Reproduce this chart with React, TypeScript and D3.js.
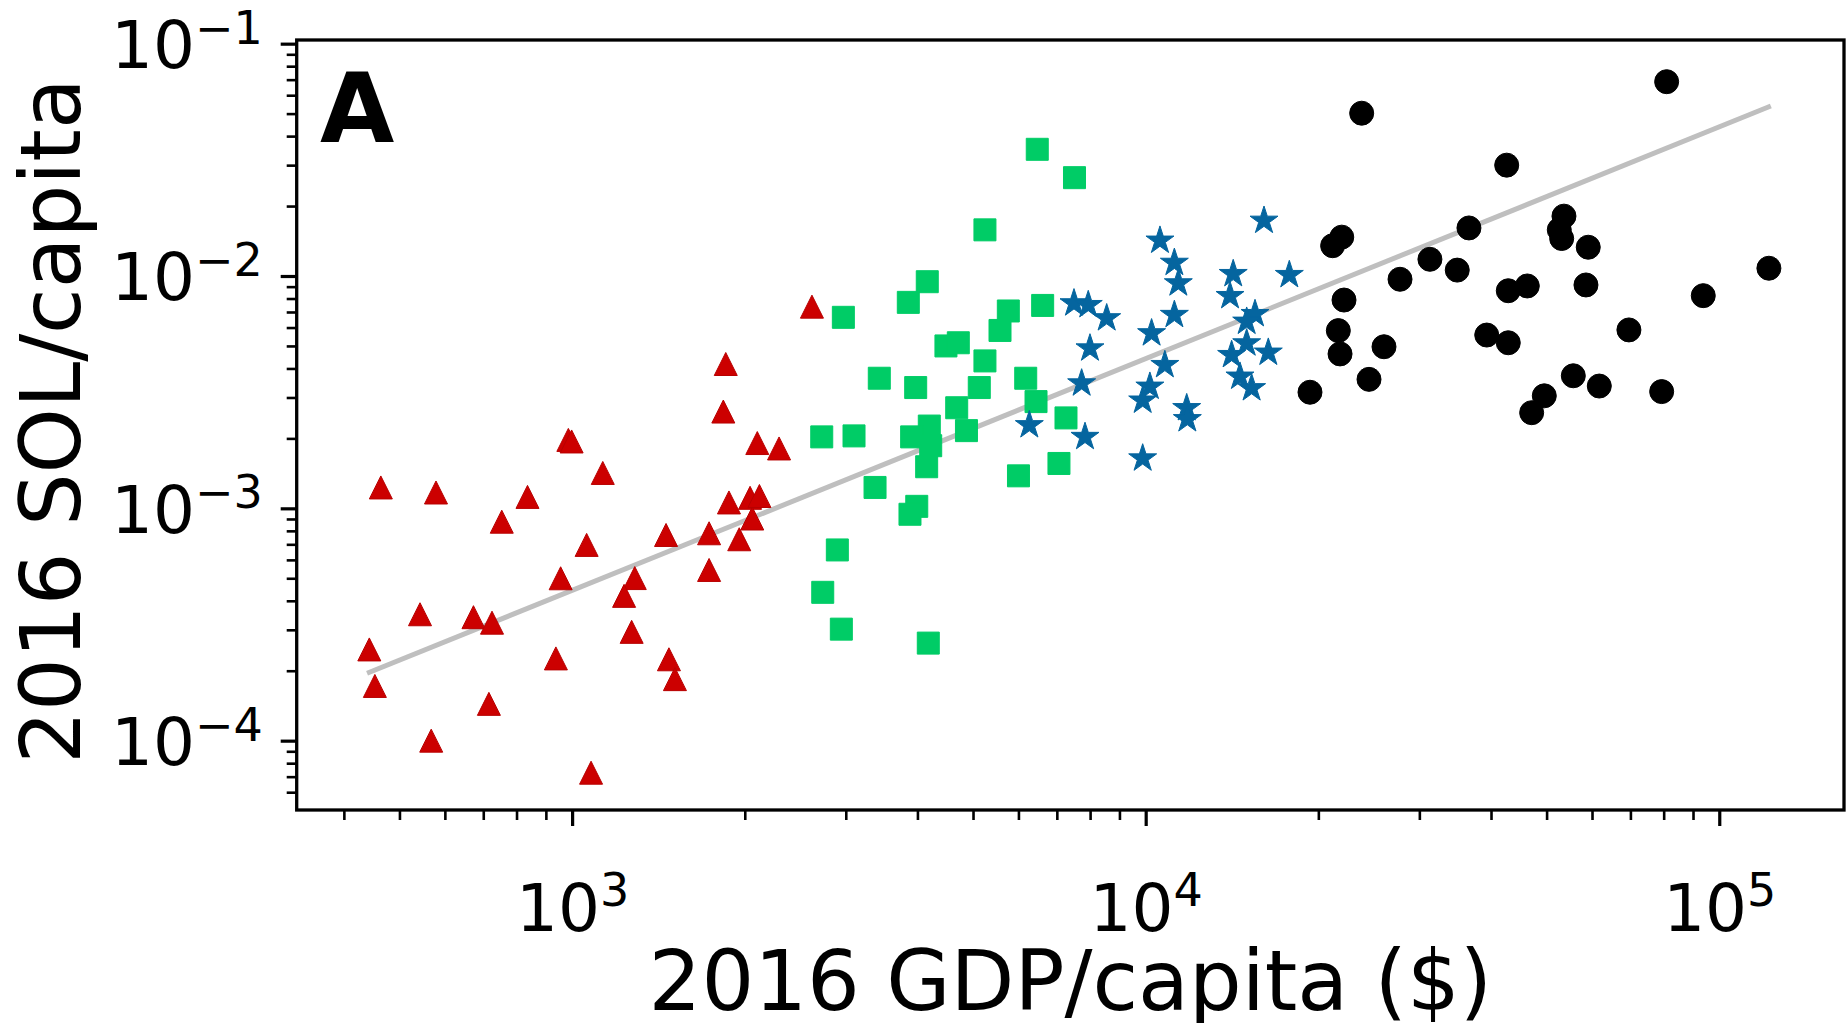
import React, { useEffect, useRef } from 'react';
import * as d3 from 'd3';

// ---- Data ----
// Low income (red triangles)
const lowIncomeGDP = [464, 579, 836, 754, 985, 998, 1131, 1835, 2103, 2295, 1877, 2043, 2121, 2061, 1733, 1956, 1733, 1458, 1060, 955, 1286, 1232, 1270, 1475, 1511, 937, 543, 673, 725, 443, 453, 716, 568, 1079, 2619, 1853];
const lowIncomeSOL = [1.23e-3, 1.17e-3, 1.12e-3, 8.76e-4, 1.97e-3, 1.94e-3, 1.42e-3, 2.61e-3, 1.91e-3, 1.81e-3, 1.06e-3, 1.11e-3, 1.13e-3, 9.04e-4, 7.81e-4, 7.36e-4, 5.43e-4, 7.68e-4, 6.96e-4, 5.0e-4, 5.01e-4, 4.2e-4, 2.94e-4, 2.24e-4, 1.84e-4, 2.26e-4, 3.5e-4, 3.4e-4, 3.22e-4, 2.47e-4, 1.72e-4, 1.44e-4, 1.0e-4, 7.28e-5, 7.38e-3, 4.18e-3];

// Lower-middle income (green squares)
const lowerMiddleGDP = [6471, 7514, 5245, 4161, 3856, 2971, 5761, 6613, 5572, 4485, 4713, 5245, 3432, 3972, 5127, 6178, 6439, 4683, 7262, 4870, 2724, 3101, 4195, 3908, 4219, 4151, 7060, 6001, 3374, 3989, 3882, 2900, 2735, 2947, 4178];
const lowerMiddleSOL = [0.0351, 0.0265, 0.0158, 9.45e-3, 7.7e-3, 6.64e-3, 7.07e-3, 7.47e-3, 5.83e-3, 5.0e-3, 5.16e-3, 4.31e-3, 3.63e-3, 3.31e-3, 3.31e-3, 3.63e-3, 2.88e-3, 2.71e-3, 2.45e-3, 2.16e-3, 2.03e-3, 2.05e-3, 2.26e-3, 2.03e-3, 1.86e-3, 1.51e-3, 1.56e-3, 1.38e-3, 1.23e-3, 1.02e-3, 9.43e-4, 6.62e-4, 4.35e-4, 3.02e-4, 2.63e-4];

// Upper-middle income (blue stars)
const upperMiddleGDP = [16080, 10590, 11220, 11400, 14210, 17800, 14030, 7499, 7941, 8551, 11220, 10240, 15510, 15000, 7996, 15000, 14120, 16360, 10800, 7733, 14600, 15300, 10170, 9880, 11790, 11820, 6268, 7838, 9880];
const upperMiddleSOL = [0.0173, 0.0142, 0.0114, 9.3e-3, 0.0102, 0.0101, 8.2e-3, 7.63e-3, 7.5e-3, 6.58e-3, 6.8e-3, 5.67e-3, 6.86e-3, 6.36e-3, 4.88e-3, 5.13e-3, 4.57e-3, 4.68e-3, 4.14e-3, 3.45e-3, 3.69e-3, 3.29e-3, 3.34e-3, 2.91e-3, 2.7e-3, 2.42e-3, 2.28e-3, 2.03e-3, 1.64e-3];

// High income (black circles)
const highIncomeGDP = [80960, 23800, 42600, 53610, 52610, 53120, 21970, 21180, 36610, 59100, 122050, 31300, 34930, 27760, 22170, 42870, 46270, 58560, 93780, 21670, 21820, 26030, 39320, 42870, 69580, 24510, 19340, 55660, 61780, 79360, 49540, 47090];
const highIncomeSOL = [0.0686, 0.0502, 0.03, 0.0181, 0.0158, 0.0145, 0.0147, 0.0135, 0.0161, 0.0133, 0.0108, 0.0118, 0.0106, 9.68e-3, 7.88e-3, 8.64e-3, 9.06e-3, 9.15e-3, 8.23e-3, 5.82e-3, 4.62e-3, 4.96e-3, 5.57e-3, 5.16e-3, 5.86e-3, 3.59e-3, 3.16e-3, 3.72e-3, 3.36e-3, 3.18e-3, 3.05e-3, 2.58e-3];

// Regression line endpoints
const fitGDP = [439, 123000];
const fitSOL = [1.95e-4, 0.0539];

// Axes
const xDomain = [331, 165000];
const yDomain = [5.03e-5, 0.1037];
const xMajorTicks = [1e3, 1e4, 1e5];
const yMajorTicks = [1e-4, 1e-3, 1e-2, 1e-1];
const xLabel = '2016 GDP/capita ($)';
const yLabel = '2016 SOL/capita';
const panelLabel = 'A';

const W = 1847;
const H = 1023;
const M = { left: 296.7, right: 1844, top: 40, bottom: 810 };
const FONT = "'DejaVu Sans', 'Noto Sans', sans-serif";

const triangleUp = {
  draw(ctx: any, size: number) {
    const h = Math.sqrt(size) / 2;
    ctx.moveTo(0, -h);
    ctx.lineTo(-h, h);
    ctx.lineTo(h, h);
    ctx.closePath();
  },
};
const squareSym = {
  draw(ctx: any, size: number) {
    const h = Math.sqrt(size) / 2;
    ctx.rect(-h, -h, 2 * h, 2 * h);
  },
};

export default function App() {
  const ref = useRef<SVGSVGElement>(null);

  useEffect(() => {
    const svg = d3.select(ref.current);
    svg.selectAll('*').remove();

    const x = d3.scaleLog().domain(xDomain).range([M.left, M.right]);
    const y = d3.scaleLog().domain(yDomain).range([M.bottom, M.top]);

    svg.append('rect').attr('width', W).attr('height', H).attr('fill', 'white');

    // regression line
    const line = d3
      .line<number>()
      .x((d) => x(d))
      .y((_, i) => y(fitSOL[i]));
    svg
      .append('path')
      .attr('d', line(fitGDP))
      .attr('fill', 'none')
      .attr('stroke', '#bfbfbf')
      .attr('stroke-width', 5);

    const series = [
      { gdp: lowIncomeGDP, sol: lowIncomeSOL, type: triangleUp, size: 23 * 23, color: '#cc0000', stroke: '#b80000' },
      { gdp: lowerMiddleGDP, sol: lowerMiddleSOL, type: squareSym, size: 22 * 22, color: '#00cc66', stroke: '#00cc66' },
      { gdp: upperMiddleGDP, sol: upperMiddleSOL, type: d3.symbolStar, size: (14.7 * 14.7) / 0.8908130915292852, color: '#05659f', stroke: '#05659f' },
      { gdp: highIncomeGDP, sol: highIncomeSOL, type: d3.symbolCircle, size: Math.PI * 12 * 12, color: '#000000', stroke: '#000000' },
    ];

    series.forEach((s) => {
      const sym = d3.symbol().type(s.type as any).size(s.size);
      svg
        .append('g')
        .selectAll('path')
        .data(s.gdp.map((g, i) => [g, s.sol[i]]))
        .join('path')
        .attr('transform', (d) => `translate(${x(d[0])},${y(d[1])})`)
        .attr('d', sym() as string)
        .attr('fill', s.color)
        .attr('stroke', s.stroke)
        .attr('stroke-width', 1);
    });

    // minor ticks
    const isMajor = (v: number) => Math.abs(Math.log10(v) - Math.round(Math.log10(v))) < 1e-6;
    const xMinor = x.ticks().filter((v) => !isMajor(v));
    const yMinor = y.ticks().filter((v) => !isMajor(v));

    const gxMinor = svg
      .append('g')
      .attr('transform', `translate(0,${M.bottom})`)
      .call(d3.axisBottom(x).tickValues(xMinor).tickSize(10).tickFormat(() => ''));
    gxMinor.select('.domain').remove();
    gxMinor.selectAll('line').attr('stroke-width', 2.6);

    const gyMinor = svg
      .append('g')
      .attr('transform', `translate(${M.left},0)`)
      .call(d3.axisLeft(y).tickValues(yMinor).tickSize(10).tickFormat(() => ''));
    gyMinor.select('.domain').remove();
    gyMinor.selectAll('line').attr('stroke-width', 2.6);

    const supText = (e: number) => (e < 0 ? `\u2212${-e}` : `${e}`);

    const gx = svg
      .append('g')
      .attr('transform', `translate(0,${M.bottom})`)
      .call(d3.axisBottom(x).tickValues(xMajorTicks).tickSize(16));
    gx.select('.domain').remove();
    gx.selectAll('line').attr('stroke-width', 3.2);
    gx.attr('font-size', 66).attr('font-family', FONT);
    gx.selectAll<SVGTextElement, number>('.tick text').each(function (d) {
      const t = d3.select(this);
      const e = Math.round(Math.log10(d));
      t.text(null).attr('y', 121).attr('dy', null).attr('fill', '#000');
      t.append('tspan').text('10');
      t.append('tspan').attr('font-size', 46).attr('dy', -25).text(supText(e));
    });

    const gy = svg
      .append('g')
      .attr('transform', `translate(${M.left},0)`)
      .call(d3.axisLeft(y).tickValues(yMajorTicks).tickSize(16));
    gy.select('.domain').remove();
    gy.selectAll('line').attr('stroke-width', 3.2);
    gy.attr('font-size', 66).attr('font-family', FONT);
    gy.selectAll<SVGTextElement, number>('.tick text').each(function (d) {
      const t = d3.select(this);
      const e = Math.round(Math.log10(d));
      t.text(null).attr('x', -34).attr('y', 24).attr('dy', null).attr('fill', '#000');
      t.append('tspan').text('10');
      t.append('tspan').attr('font-size', 46).attr('dy', -24.5).text(supText(e));
    });

    // frame
    svg
      .append('rect')
      .attr('x', M.left)
      .attr('y', M.top)
      .attr('width', M.right - M.left)
      .attr('height', M.bottom - M.top)
      .attr('fill', 'none')
      .attr('stroke', '#000')
      .attr('stroke-width', 3.3);

    // labels
    svg
      .append('text')
      .attr('x', (M.left + M.right) / 2)
      .attr('y', 1010)
      .attr('text-anchor', 'middle')
      .attr('font-family', FONT)
      .attr('font-size', 83)
      .text(xLabel);

    svg
      .append('text')
      .attr('transform', `translate(80,${(M.top + M.bottom) / 2 - 4}) rotate(-90)`)
      .attr('text-anchor', 'middle')
      .attr('font-family', FONT)
      .attr('font-size', 83)
      .text(yLabel);

    svg
      .append('text')
      .attr('x', 320)
      .attr('y', 142)
      .attr('font-family', FONT)
      .attr('font-weight', 'bold')
      .attr('font-size', 96)
      .text(panelLabel);
  }, []);

  return (
    <svg
      ref={ref}
      width={W}
      height={H}
      style={{ position: 'absolute', left: 0, top: 0, display: 'block' }}
    />
  );
}
